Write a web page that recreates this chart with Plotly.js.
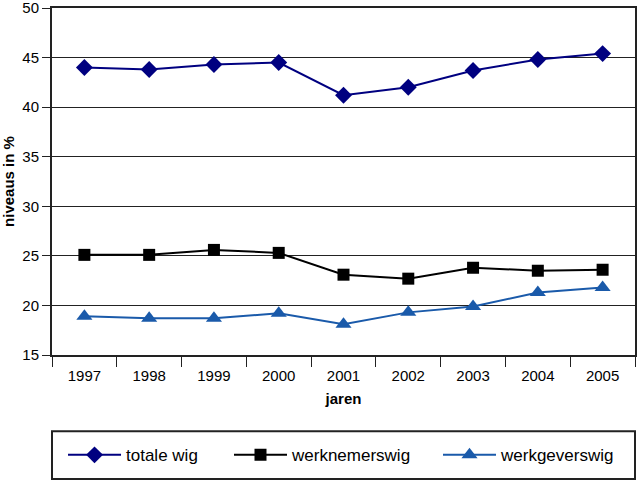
<!DOCTYPE html>
<html><head><meta charset="utf-8">
<script src="https://cdn.plot.ly/plotly-3.0.1.min.js"></script>
<style>html,body{margin:0;padding:0;background:#fff}#c{width:637px;height:482px}</style>
</head><body><div id="c"></div>
<script>
const years = ['1997','1998','1999','2000','2001','2002','2003','2004','2005'];
const totaleWig = [44.0, 43.8, 44.3, 44.5, 41.2, 42.0, 43.7, 44.8, 45.4];
const werknemerswig = [25.1, 25.1, 25.6, 25.3, 23.1, 22.7, 23.8, 23.5, 23.6];
const werkgeverswig = [18.9, 18.7, 18.7, 19.2, 18.1, 19.3, 19.9, 21.3, 21.8];

const traces = [
  {x: years, y: totaleWig, name: 'totale wig', mode: 'lines+markers', type: 'scatter', legend: 'legend',
   line: {color: '#000080', width: 2}, marker: {symbol: 'diamond', size: 13, color: '#000080'}},
  {x: years, y: werknemerswig, name: 'werknemerswig', mode: 'lines+markers', type: 'scatter', legend: 'legend2',
   line: {color: '#000000', width: 2}, marker: {symbol: 'square', size: 12, color: '#000000'}},
  {x: years, y: werkgeverswig, name: 'werkgeverswig', mode: 'lines+markers', type: 'scatter', legend: 'legend3',
   line: {color: '#1a5aaa', width: 2}, marker: {symbol: 'triangle-up', size: 14, color: '#1a5aaa'}}
];

function leg(x) {
  return {orientation: 'h', x: x, xanchor: 'left', y: -0.289, yanchor: 'middle',
          font: {size: 17}, bgcolor: 'rgba(0,0,0,0)', itemwidth: 53};
}

const layout = {
  width: 637, height: 482,
  margin: {l: 52, r: 2, t: 8, b: 127},
  paper_bgcolor: '#fff', plot_bgcolor: '#fff',
  font: {family: 'Liberation Sans, Arial, sans-serif', size: 15, color: '#000'},
  showlegend: true,
  legend: leg(0.0189), legend2: leg(0.3036), legend3: leg(0.6621),
  xaxis: {type: 'category', range: [-0.5, 8.5], showgrid: false, zeroline: false,
          showline: true, mirror: true, linecolor: '#222', linewidth: 2,
          ticks: 'outside', tickson: 'boundaries', ticklen: 10, tickcolor: '#222', tickwidth: 1,
          tickfont: {size: 15}, ticklabelstandoff: 6,
          title: {text: '<b>jaren</b>', font: {size: 15}, standoff: 10}},
  yaxis: {range: [15, 50], dtick: 5, showgrid: true, gridcolor: '#222', gridwidth: 1,
          zeroline: false, showline: true, mirror: true, linecolor: '#222', linewidth: 2,
          ticks: 'outside', ticklen: 8, tickcolor: '#222', tickfont: {size: 15},
          ticklabeloverflow: 'allow',
          title: {text: '<b>niveaus in %</b>', font: {size: 15}, standoff: 6}},
  shapes: [{type: 'rect', xref: 'paper', yref: 'paper', x0: 0, x1: 1.0, y0: -0.357, y1: -0.22,
            line: {color: '#222', width: 2}, fillcolor: 'rgba(0,0,0,0)'}]
};
Plotly.newPlot('c', traces, layout, {displayModeBar: false, staticPlot: true});
</script></body></html>
